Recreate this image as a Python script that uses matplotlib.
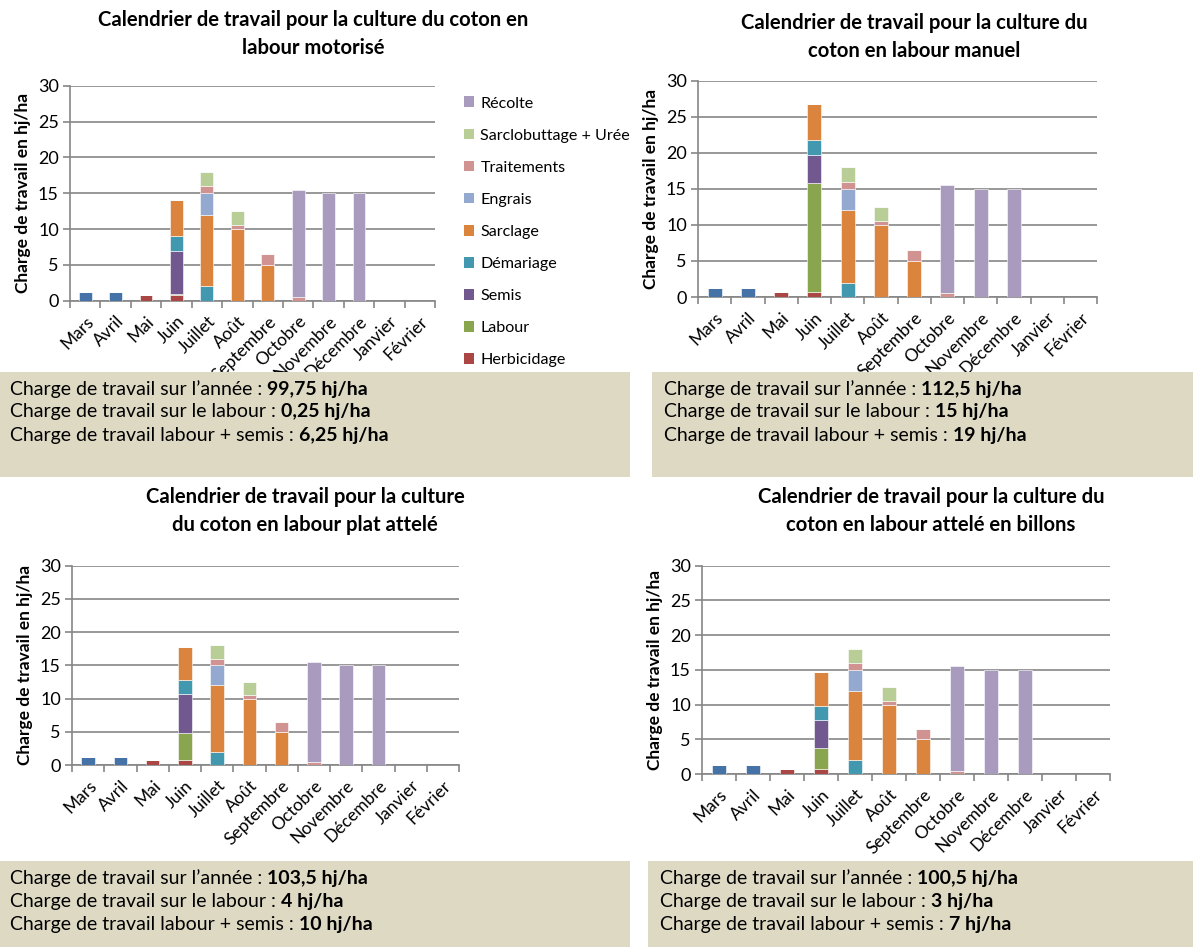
import matplotlib
matplotlib.use("Agg")
import matplotlib.pyplot as plt
from matplotlib.patches import Patch, Rectangle
import numpy as np

plt.rcParams['font.family'] = ['Lato', 'DejaVu Sans']

W, H = 1193, 947

mois = ['Mars', 'Avril', 'Mai', 'Juin', 'Juillet', 'Août', 'Septembre',
        'Octobre', 'Novembre', 'Décembre', 'Janvier', 'Février']

# séries communes aux quatre calendriers (hj/ha par mois)
serie1 = [1.25, 1.25, 0, 0, 0, 0, 0, 0, 0, 0, 0, 0]          # série bleue, hors légende
herbicidage = [0, 0, 0.75, 0.75, 0, 0, 0, 0, 0, 0, 0, 0]
demariage = [0, 0, 0, 2, 2, 0, 0, 0, 0, 0, 0, 0]
sarclage = [0, 0, 0, 5, 10, 10, 5, 0, 0, 0, 0, 0]
engrais = [0, 0, 0, 0, 3, 0, 0, 0, 0, 0, 0, 0]
traitements = [0, 0, 0, 0, 1, 0.5, 1.5, 0.5, 0, 0, 0, 0]
sarclobuttage = [0, 0, 0, 0, 2, 2, 0, 0, 0, 0, 0, 0]
recolte = [0, 0, 0, 0, 0, 0, 0, 15, 15, 15, 0, 0]

# labour et semis selon l'itinéraire
labour_motorise = [0, 0, 0, 0.25, 0, 0, 0, 0, 0, 0, 0, 0]
semis_motorise = [0, 0, 0, 6, 0, 0, 0, 0, 0, 0, 0, 0]
labour_manuel = [0, 0, 0, 15, 0, 0, 0, 0, 0, 0, 0, 0]
semis_manuel = [0, 0, 0, 4, 0, 0, 0, 0, 0, 0, 0, 0]
labour_plat = [0, 0, 0, 4, 0, 0, 0, 0, 0, 0, 0, 0]
semis_plat = [0, 0, 0, 6, 0, 0, 0, 0, 0, 0, 0, 0]
labour_billons = [0, 0, 0, 3, 0, 0, 0, 0, 0, 0, 0, 0]
semis_billons = [0, 0, 0, 4, 0, 0, 0, 0, 0, 0, 0, 0]

titres = ["Calendrier de travail pour la culture du coton en\nlabour motorisé",
          "Calendrier de travail pour la culture du\ncoton en labour manuel",
          "Calendrier de travail pour la culture\ndu coton en labour plat attelé",
          "Calendrier de travail pour la culture du\ncoton en labour attelé en billons"]

charge_annee = ['99,75', '112,5', '103,5', '100,5']
charge_labour = ['0,25', '15', '4', '3']
charge_labour_semis = ['6,25', '19', '10', '7']

couleurs = {'serie1': '#4572A7', 'Herbicidage': '#AA4643', 'Labour': '#89A54E',
            'Semis': '#71588F', 'Démariage': '#4198AF', 'Sarclage': '#DB843D',
            'Engrais': '#93A9CF', 'Traitements': '#D19392',
            'Sarclobuttage + Urée': '#B9CD96', 'Récolte': '#A99BBD'}

# positions en pixels : (x gauche, x droite, y haut, y bas) de la zone de tracé
panneaux = [(70, 435, 85.7, 300.7), (698, 1097, 80.7, 297),
            (72, 459, 565.7, 765), (702, 1110, 565.7, 774)]
titres_pos = [(313, 34), (914, 37), (305, 511), (931, 511)]
encadres = [(0, 372, 630, 105), (652, 372, 541, 105),
            (0, 861, 630, 86), (648, 861, 545, 86)]

fig = plt.figure(figsize=(W / 100, H / 100), dpi=100)

def rect(x0, x1, yt, yb):
    return [x0 / W, 1 - yb / H, (x1 - x0) / W, (yb - yt) / H]

itineraires = [(labour_motorise, semis_motorise), (labour_manuel, semis_manuel),
               (labour_plat, semis_plat), (labour_billons, semis_billons)]

x = np.arange(len(mois))
for k in range(4):
    labour, semis = itineraires[k]
    ax = fig.add_axes(rect(*panneaux[k]))
    series = [('serie1', serie1), ('Herbicidage', herbicidage), ('Labour', labour),
              ('Semis', semis), ('Démariage', demariage), ('Sarclage', sarclage),
              ('Engrais', engrais), ('Traitements', traitements),
              ('Sarclobuttage + Urée', sarclobuttage), ('Récolte', recolte)]
    bas = np.zeros(len(mois))
    for nom, vals in series:
        vals = np.array(vals, dtype=float)
        ax.bar(x, vals, width=0.42, bottom=bas, color=couleurs[nom],
               edgecolor='white', linewidth=0.4, zorder=3)
        bas += vals
    ax.set_xlim(-0.5, 11.5)
    ax.set_ylim(0, 30)
    ax.set_yticks(range(0, 31, 5))
    ax.yaxis.grid(True, color='#868686', linewidth=1.2, zorder=0)
    ax.set_xticks(x)
    ax.set_xticklabels(mois, rotation=45, ha='right', rotation_mode='anchor',
                       fontsize=12.5)
    ax.set_xticks(np.arange(-0.5, 12, 1), minor=True)
    ax.tick_params(axis='x', which='major', length=0, pad=9)
    ax.tick_params(axis='x', which='minor', length=5, color='#868686', width=1.2)
    ax.tick_params(axis='y', length=5, color='#868686', width=1.2, labelsize=13, pad=3)
    for s in ['top', 'right']:
        ax.spines[s].set_visible(False)
    for s in ['left', 'bottom']:
        ax.spines[s].set_color('#868686')
        ax.spines[s].set_linewidth(1.2)
    ax.set_ylabel('Charge de travail en hj/ha', fontsize=12.5, fontweight='bold', labelpad=5)

    tx, ty = titres_pos[k]
    fig.text(tx / W, 1 - ty / H, titres[k], ha='center', va='center',
             fontsize=14.6, fontweight='bold', linespacing=1.5)

    bx, by, bw, bh = encadres[k]
    fig.patches.append(Rectangle((bx / W, 1 - (by + bh) / H), bw / W, bh / H,
                                 transform=fig.transFigure, facecolor='#DDD9C3',
                                 edgecolor='none', zorder=0))
    lignes = [("Charge de travail sur l’année : ", charge_annee[k] + ' hj/ha'),
              ("Charge de travail sur le labour : ", charge_labour[k] + ' hj/ha'),
              ("Charge de travail labour + semis : ", charge_labour_semis[k] + ' hj/ha')]
    for i, (txt, val) in enumerate(lignes):
        y = 1 - (by + 17 + i * 23) / H
        t = fig.text((bx + 10 if k % 2 == 0 else bx + 12) / W, y, txt,
                     ha='left', va='center', fontsize=14)
        fig.canvas.draw()
        bb = t.get_window_extent()
        fig.text(bb.x1 / W, y, val, ha='left', va='center', fontsize=14,
                 fontweight='bold')

# légende du premier graphique
ordre = ['Récolte', 'Sarclobuttage + Urée', 'Traitements', 'Engrais', 'Sarclage',
         'Démariage', 'Semis', 'Labour', 'Herbicidage']
poignees = [Patch(facecolor=couleurs[n], edgecolor='none') for n in ordre]
fig.legend(poignees, ordre, loc='upper left', bbox_to_anchor=(449 / W, 1 - 82 / H),
           frameon=False, fontsize=11.6, handlelength=0.65, handleheight=0.65,
           handletextpad=0.4, labelspacing=1.12)

fig.savefig('out.png', dpi=100)
